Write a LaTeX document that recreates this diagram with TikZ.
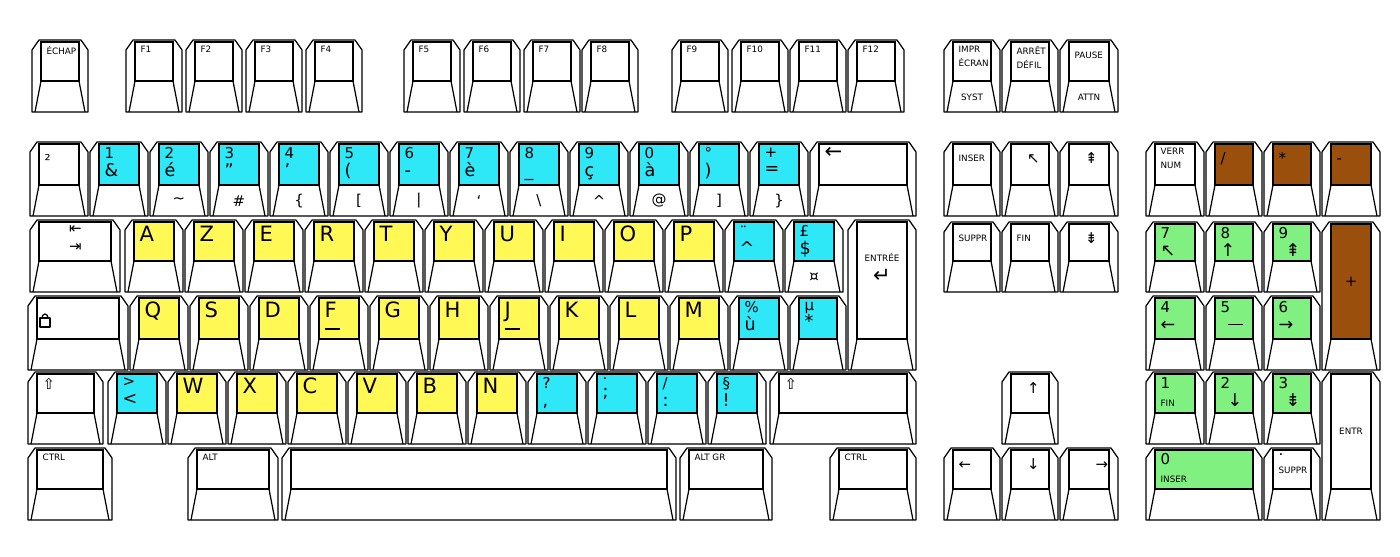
\documentclass[tikz,border=0pt]{standalone}
\usepackage{fontspec}
\setmainfont{DejaVu Sans}
\usetikzlibrary{positioning}

\definecolor{kcyan}{HTML}{2EE8F8}
\definecolor{kyellow}{HTML}{FFF855}
\definecolor{kgreen}{HTML}{80F080}
\definecolor{kbrown}{HTML}{9A4F0C}

\newcommand{\kbig}{\fontsize{12}{12}\selectfont}
\newcommand{\kmid}{\fontsize{8.5}{8}\selectfont}
\newcommand{\ksmall}{\fontsize{5}{6}\selectfont}
\newcommand{\kbar}{\rule[2pt]{9pt}{0.7pt}}

\tikzset{
  keyline/.style={draw=black, line width=0.7pt, line join=round},
  keycap/.style={draw=black, line width=0.7pt, anchor=north west, inner sep=0pt, outer sep=0pt},
  lab/.style={inner sep=1pt, align=left},
}

% name, x0, y0, x1, y1, fill, cap text, lower text
\newcommand{\kkey}[8]{%
  \pgfmathsetmacro{\kw}{(#4-#2-18)*0.02}%
  \pgfmathsetmacro{\kh}{(#5-#3-33)*0.02}%
  \draw[keyline, fill=white] (#2,#5) -- (#2,#3+10) -- (#2+7,#3) -- (#4-7,#3) -- (#4,#3+10) -- (#4,#5) -- cycle;
  \node[keycap, fill=#6, minimum width=\kw cm, minimum height=\kh cm] (#1) at (#2+9,#3+2) {};
  \draw[keyline] (#1.south west) -- (#2+3,#5) (#1.south east) -- (#4-3,#5);
  \node[lab, anchor=north west, xshift=2pt, yshift=-1pt] at (#1.north west) {#7};
  \node[lab] at (#2/2+#4/2,#5-15) {#8};
}

\begin{document}
\begin{tikzpicture}[x=0.02cm, y=-0.02cm]
  \useasboundingbox (0,0) rectangle (1400,557);
  % function row
  \kkey{echap}{32}{40}{88}{112}{white}{\ksmall ÉCHAP}{}
  \kkey{f1}{126}{40}{182}{112}{white}{\ksmall F1}{}
  \kkey{f2}{186}{40}{242}{112}{white}{\ksmall F2}{}
  \kkey{f3}{246}{40}{302}{112}{white}{\ksmall F3}{}
  \kkey{f4}{306}{40}{362}{112}{white}{\ksmall F4}{}
  \kkey{f5}{404}{40}{460}{112}{white}{\ksmall F5}{}
  \kkey{f6}{464}{40}{520}{112}{white}{\ksmall F6}{}
  \kkey{f7}{524}{40}{580}{112}{white}{\ksmall F7}{}
  \kkey{f8}{582}{40}{638}{112}{white}{\ksmall F8}{}
  \kkey{f9}{672}{40}{728}{112}{white}{\ksmall F9}{}
  \kkey{f10}{732}{40}{788}{112}{white}{\ksmall F10}{}
  \kkey{f11}{790}{40}{846}{112}{white}{\ksmall F11}{}
  \kkey{f12}{848}{40}{904}{112}{white}{\ksmall F12}{}
  \kkey{impr}{944}{40}{1000}{112}{white}{\ksmall IMPR\\[-4pt]\ksmall ÉCRAN}{\ksmall SYST}
  \kkey{arret}{1002}{40}{1058}{112}{white}{\ksmall ARRÊT\\[-4pt]\ksmall DÉFIL}{}
  \kkey{pause}{1060}{40}{1118}{112}{white}{\ksmall\\[-5pt]\ksmall PAUSE}{\ksmall ATTN}
  % number row
  \kkey{sq}{30}{142}{88}{216}{white}{\\[-2pt]\kmid ²}{}
  \kkey{n1}{90}{142}{148}{216}{kcyan}{\kmid 1\\[-2pt]\&}{}
  \kkey{n2}{150}{142}{208}{216}{kcyan}{\kmid 2\\[-2pt]é}{\kmid \textasciitilde}
  \kkey{n3}{210}{142}{268}{216}{kcyan}{\kmid 3\\[-2pt]"}{\kmid \#}
  \kkey{n4}{270}{142}{328}{216}{kcyan}{\kmid 4\\[-2pt]'}{\kmid \{}
  \kkey{n5}{330}{142}{388}{216}{kcyan}{\kmid 5\\[-2pt](}{\kmid [}
  \kkey{n6}{390}{142}{448}{216}{kcyan}{\kmid 6\\[-2pt]-}{\kmid |}
  \kkey{n7}{450}{142}{508}{216}{kcyan}{\kmid 7\\[-2pt]è}{\kmid `}
  \kkey{n8}{510}{142}{568}{216}{kcyan}{\kmid 8\\[-2pt]\_}{\kmid \textbackslash}
  \kkey{n9}{570}{142}{628}{216}{kcyan}{\kmid 9\\[-2pt]ç}{\kmid \textasciicircum}
  \kkey{n0}{630}{142}{688}{216}{kcyan}{\kmid 0\\[-2pt]à}{\kmid @}
  \kkey{deg}{690}{142}{748}{216}{kcyan}{\kmid °\\[-2pt])}{\kmid ]}
  \kkey{plus}{750}{142}{808}{216}{kcyan}{\kmid +\\[-2pt]=}{\kmid \}}
  \kkey{back}{810}{142}{916}{216}{white}{\kbig ←}{}
  % top letter row
  \kkey{tab}{30}{220}{120}{292}{white}{\kmid\hspace{14pt}⇤\\[-2pt]\kmid\hspace{14pt}⇥}{}
  \kkey{ka}{125}{220}{183}{292}{kyellow}{\kbig A}{}
  \kkey{kz}{185}{220}{243}{292}{kyellow}{\kbig Z}{}
  \kkey{ke}{245}{220}{303}{292}{kyellow}{\kbig E}{}
  \kkey{kr}{305}{220}{363}{292}{kyellow}{\kbig R}{}
  \kkey{kt}{365}{220}{423}{292}{kyellow}{\kbig T}{}
  \kkey{ky}{425}{220}{483}{292}{kyellow}{\kbig Y}{}
  \kkey{ku}{485}{220}{543}{292}{kyellow}{\kbig U}{}
  \kkey{ki}{545}{220}{603}{292}{kyellow}{\kbig I}{}
  \kkey{ko}{605}{220}{663}{292}{kyellow}{\kbig O}{}
  \kkey{kp}{665}{220}{723}{292}{kyellow}{\kbig P}{}
  \kkey{circ}{725}{220}{783}{292}{kcyan}{\kmid ¨\\[-2pt]\textasciicircum}{}
  \kkey{dollar}{785}{220}{843}{292}{kcyan}{\kmid £\\[-2pt]\$}{\kmid ¤}
  \kkey{enter}{848}{220}{916}{370}{white}{}{}
  \node[lab, align=center] (entlab) at (882,268) {\ksmall ENTRÉE\\\kbig ↵};
  % home row
  \kkey{caps}{28}{296}{128}{370}{white}{}{}
  \draw[keyline] (40,318) rectangle (50,327);
  \draw[keyline] (42,318) arc[start angle=180, end angle=360, x radius=3, y radius=4];
  \kkey{kq}{130}{296}{188}{370}{kyellow}{\kbig Q}{}
  \kkey{ks}{190}{296}{248}{370}{kyellow}{\kbig S}{}
  \kkey{kd}{250}{296}{308}{370}{kyellow}{\kbig D}{}
  \kkey{kf}{310}{296}{368}{370}{kyellow}{\kbig F\\[-3pt]\kbar}{}
  \kkey{kg}{370}{296}{428}{370}{kyellow}{\kbig G}{}
  \kkey{kh}{430}{296}{488}{370}{kyellow}{\kbig H}{}
  \kkey{kj}{490}{296}{548}{370}{kyellow}{\kbig J\\[-3pt]\kbar}{}
  \kkey{kk}{550}{296}{608}{370}{kyellow}{\kbig K}{}
  \kkey{kl}{610}{296}{668}{370}{kyellow}{\kbig L}{}
  \kkey{km}{670}{296}{728}{370}{kyellow}{\kbig M}{}
  \kkey{ugr}{730}{296}{788}{370}{kcyan}{\kmid \%\\[-2pt]ù}{}
  \kkey{mu}{790}{296}{846}{370}{kcyan}{\kmid µ\\[-2pt]*}{}
  % bottom letter row
  \kkey{lshift}{28}{372}{103}{444}{white}{\kmid ⇧}{}
  \kkey{less}{108}{372}{166}{444}{kcyan}{\kmid >\\[-2pt]<}{}
  \kkey{kw}{168}{372}{226}{444}{kyellow}{\kbig W}{}
  \kkey{kx}{228}{372}{286}{444}{kyellow}{\kbig X}{}
  \kkey{kc}{288}{372}{346}{444}{kyellow}{\kbig C}{}
  \kkey{kv}{348}{372}{406}{444}{kyellow}{\kbig V}{}
  \kkey{kb}{408}{372}{466}{444}{kyellow}{\kbig B}{}
  \kkey{kn}{468}{372}{526}{444}{kyellow}{\kbig N}{}
  \kkey{quest}{528}{372}{586}{444}{kcyan}{\kmid ?\\[-2pt],}{}
  \kkey{semi}{588}{372}{646}{444}{kcyan}{\kmid .\\[-2pt];}{}
  \kkey{slash}{648}{372}{706}{444}{kcyan}{\kmid /\\[-2pt]:}{}
  \kkey{sect}{708}{372}{766}{444}{kcyan}{\kmid §\\[-2pt]!}{}
  \kkey{rshift}{770}{372}{916}{444}{white}{\kmid ⇧}{}
  % space row
  \kkey{lctrl}{28}{448}{112}{520}{white}{\ksmall CTRL}{}
  \kkey{alt}{188}{448}{278}{520}{white}{\ksmall ALT}{}
  \kkey{space}{282}{448}{676}{520}{white}{}{}
  \kkey{altgr}{680}{448}{772}{520}{white}{\ksmall ALT GR}{}
  \kkey{rctrl}{830}{448}{916}{520}{white}{\ksmall CTRL}{}
  % navigation
  \kkey{inser}{944}{142}{1000}{216}{white}{\ksmall\\[-4pt]\ksmall INSER}{}
  \kkey{home}{1002}{142}{1058}{216}{white}{\\[-3pt]\hspace{6pt}\kmid ↖}{}
  \kkey{pgup}{1060}{142}{1118}{216}{white}{\\[-3pt]\hspace{6pt}\kmid ⇞}{}
  \kkey{suppr}{944}{222}{1000}{292}{white}{\ksmall\\[-4pt]\ksmall SUPPR}{}
  \kkey{fin}{1002}{222}{1058}{292}{white}{\ksmall\\[-4pt]\ksmall FIN}{}
  \kkey{pgdn}{1060}{222}{1118}{292}{white}{\\[-3pt]\hspace{6pt}\kmid ⇟}{}
  \kkey{up}{1002}{372}{1058}{444}{white}{\\[-3pt]\hspace{6pt}\kmid ↑}{}
  \kkey{left}{944}{448}{1000}{520}{white}{\\[-3pt]\kmid ←}{}
  \kkey{down}{1002}{448}{1058}{520}{white}{\\[-3pt]\hspace{6pt}\kmid ↓}{}
  \kkey{right}{1060}{448}{1118}{520}{white}{\\[-3pt]\hspace{12pt}\kmid →}{}
  % numeric pad
  \kkey{verr}{1146}{142}{1204}{216}{white}{\ksmall VERR\\[-4pt]\ksmall NUM}{}
  \kkey{pdiv}{1206}{142}{1262}{216}{kbrown}{\\[-3pt]\kmid /}{}
  \kkey{pmul}{1264}{142}{1320}{216}{kbrown}{\\[-3pt]\kmid *}{}
  \kkey{pmin}{1322}{142}{1380}{216}{kbrown}{\\[-3pt]\kmid -}{}
  \kkey{p7}{1146}{222}{1204}{292}{kgreen}{\kmid 7\\[-2pt]↖}{}
  \kkey{p8}{1206}{222}{1262}{292}{kgreen}{\kmid 8\\[-2pt]↑}{}
  \kkey{p9}{1264}{222}{1320}{292}{kgreen}{\kmid 9\\[-2pt]\hspace{4pt}⇞}{}
  \kkey{pplus}{1322}{222}{1380}{370}{kbrown}{}{}
  \node[lab] (pluslab) at (pplus.center) {\kmid +};
  \kkey{p4}{1146}{296}{1204}{370}{kgreen}{\kmid 4\\[-2pt]←}{}
  \kkey{p5}{1206}{296}{1262}{370}{kgreen}{\kmid 5\\[-3pt]\hspace{4pt}\kbar}{}
  \kkey{p6}{1264}{296}{1320}{370}{kgreen}{\kmid 6\\[-2pt]→}{}
  \kkey{p1}{1146}{372}{1204}{444}{kgreen}{\kmid 1\\[-2pt]\ksmall FIN}{}
  \kkey{p2}{1206}{372}{1262}{444}{kgreen}{\kmid 2\\[-2pt]\hspace{4pt}↓}{}
  \kkey{p3}{1264}{372}{1320}{444}{kgreen}{\kmid 3\\[-2pt]\hspace{4pt}⇟}{}
  \kkey{pentr}{1322}{372}{1380}{520}{white}{}{}
  \node[lab] (entrlab) at (pentr.center) {\ksmall ENTR};
  \kkey{p0}{1146}{448}{1262}{520}{kgreen}{\kmid 0\\[-2pt]\ksmall INSER}{}
  \kkey{pdot}{1264}{448}{1320}{520}{white}{\kmid .\\[-2pt]\ksmall SUPPR}{}
\end{tikzpicture}
\end{document}
